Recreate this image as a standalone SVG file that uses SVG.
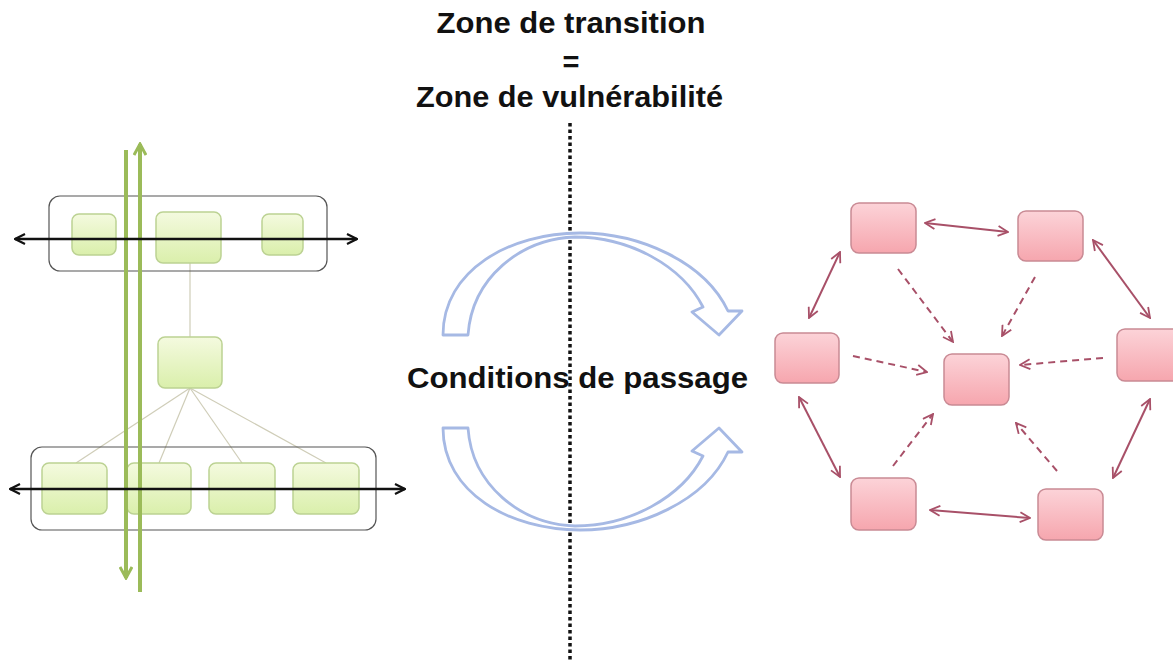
<svg xmlns="http://www.w3.org/2000/svg" width="1173" height="669" viewBox="0 0 1173 669">
<style>
.title{font-family:"Liberation Sans",Arial,sans-serif;font-weight:bold;font-size:29px;fill:#111;}
.cont{fill:none;stroke:#555;stroke-width:1.2;}
.gnode{fill:url(#gg);stroke:#bcd293;stroke-width:1.5;}
.pnode{fill:url(#pg);stroke:#c98a94;stroke-width:1.5;}
.tree{stroke:#cfcdb8;stroke-width:1.2;fill:none;}
.harr{stroke:#111;stroke-width:2.3;fill:none;marker-start:url(#ka);marker-end:url(#ka);}
.varr{stroke:#9bbb59;stroke-width:4;fill:none;marker-end:url(#ga);}
.solid{stroke:#a85068;stroke-width:2;fill:none;marker-start:url(#pa);marker-end:url(#pa);}
.dash{stroke:#a85068;stroke-width:2;fill:none;stroke-dasharray:7 5;marker-end:url(#pa);}
.cyc{fill:#fff;stroke:#a6b9e4;stroke-width:2.8;stroke-linejoin:round;}
</style>
<defs>
<linearGradient id="gg" x1="0" y1="0" x2="0" y2="1"><stop offset="0" stop-color="#f4fadf"/><stop offset="1" stop-color="#daefab"/></linearGradient>
<linearGradient id="pg" x1="0" y1="0" x2="0" y2="1"><stop offset="0" stop-color="#fcd3d8"/><stop offset="1" stop-color="#f6a6ae"/></linearGradient>
<marker id="ka" viewBox="0 0 12 12" refX="11" refY="6" markerWidth="12" markerHeight="12" markerUnits="userSpaceOnUse" orient="auto-start-reverse"><path d="M1,1 L11,6 L1,11" fill="none" stroke="#111" stroke-width="2.2"/></marker>
<marker id="ga" viewBox="0 0 14 14" refX="12" refY="7" markerWidth="14" markerHeight="14" markerUnits="userSpaceOnUse" orient="auto-start-reverse"><path d="M1,1 L12,7 L1,13" fill="none" stroke="#9bbb59" stroke-width="3"/></marker>
<marker id="pa" viewBox="0 0 12 12" refX="11" refY="6" markerWidth="12" markerHeight="12" markerUnits="userSpaceOnUse" orient="auto-start-reverse"><path d="M1,1 L11,6 L1,11" fill="none" stroke="#a85068" stroke-width="1.8"/></marker>
<path id="carrow" d="M443,335 C443,270 510,233 580,233 C640,233 705,262 728,311 L742,311 L719,335 L692,312 L703,307 C682,266 630,237 575,237 C520,239 472,278 468,335 Z"/>
</defs>
<rect width="1173" height="669" fill="#fff"/>

<g id="titles">
<text class="title" x="571" y="33" text-anchor="middle" textLength="269" lengthAdjust="spacingAndGlyphs">Zone de transition</text>
<text class="title" x="571" y="72" text-anchor="middle">=</text>
<text class="title" x="569.5" y="107" text-anchor="middle" textLength="307" lengthAdjust="spacingAndGlyphs">Zone de vulnérabilité</text>
</g>

<g id="divider"><line x1="570" y1="123" x2="570" y2="662" stroke="#111" stroke-width="3.5" stroke-dasharray="3.5 3"/></g>

<g id="cycle-arrows">
<use href="#carrow" class="cyc"/>
<use href="#carrow" class="cyc" transform="translate(0,763) scale(1,-1)"/>
</g>
<g id="label-conditions">
<text class="title" x="577.5" y="388" text-anchor="middle" textLength="341" lengthAdjust="spacingAndGlyphs">Conditions de passage</text>
</g>

<g id="left-connectors">
<line class="tree" x1="190" y1="263" x2="190" y2="337"/>
<line class="tree" x1="190" y1="388" x2="76" y2="463"/>
<line class="tree" x1="190" y1="388" x2="159" y2="463"/>
<line class="tree" x1="190" y1="388" x2="242" y2="463"/>
<line class="tree" x1="190" y1="388" x2="326" y2="463"/>
</g>
<g id="top-group"><rect class="cont" x="49" y="196" width="278" height="75" rx="11"/></g>
<g id="bottom-group"><rect class="cont" x="31" y="447" width="345" height="83" rx="11"/></g>
<g id="g-top1"><rect class="gnode" x="72" y="214" width="44" height="41" rx="7"/></g>
<g id="g-top2"><rect class="gnode" x="156" y="212" width="65" height="51" rx="7"/></g>
<g id="g-top3"><rect class="gnode" x="262" y="214" width="41" height="41" rx="7"/></g>
<g id="g-mid"><rect class="gnode" x="158" y="337" width="64" height="51" rx="7"/></g>
<g id="g-bot1"><rect class="gnode" x="42" y="463" width="65" height="51" rx="7"/></g>
<g id="g-bot2"><rect class="gnode" x="127" y="463" width="64" height="51" rx="7"/></g>
<g id="g-bot3"><rect class="gnode" x="209" y="463" width="66" height="51" rx="7"/></g>
<g id="g-bot4"><rect class="gnode" x="293" y="463" width="66" height="51" rx="7"/></g>
<g id="left-arrows">
<line class="varr" x1="126" y1="150" x2="126" y2="578"/>
<line class="varr" x1="140" y1="592" x2="140" y2="144"/>
<line class="harr" x1="15" y1="239" x2="357" y2="239"/>
<line class="harr" x1="10" y1="489" x2="405" y2="489"/>
</g>

<g id="p-tl"><rect class="pnode" x="851" y="203" width="65" height="50" rx="8"/></g>
<g id="p-tr"><rect class="pnode" x="1018" y="211" width="65" height="50" rx="8"/></g>
<g id="p-l"><rect class="pnode" x="775" y="333" width="64" height="50" rx="8"/></g>
<g id="p-c"><rect class="pnode" x="944" y="354" width="65" height="51" rx="8"/></g>
<g id="p-r"><rect class="pnode" x="1117" y="329" width="65" height="52" rx="8"/></g>
<g id="p-bl"><rect class="pnode" x="851" y="478" width="65" height="52" rx="8"/></g>
<g id="p-br"><rect class="pnode" x="1038" y="489" width="65" height="51" rx="8"/></g>
<g id="connectors">
<line class="solid" x1="925" y1="223" x2="1008" y2="232"/>
<line class="solid" x1="1093" y1="240" x2="1150" y2="318"/>
<line class="solid" x1="840" y1="252" x2="809" y2="318"/>
<line class="solid" x1="799" y1="397" x2="840" y2="477"/>
<line class="solid" x1="930" y1="510" x2="1030" y2="518"/>
<line class="solid" x1="1150" y1="399" x2="1113" y2="478"/>
<line class="dash" x1="898" y1="269" x2="953" y2="342"/>
<line class="dash" x1="1035" y1="277" x2="1002" y2="336"/>
<line class="dash" x1="853" y1="356" x2="927" y2="372"/>
<line class="dash" x1="1103" y1="358" x2="1020" y2="365"/>
<line class="dash" x1="893" y1="466" x2="933" y2="414"/>
<line class="dash" x1="1057" y1="471" x2="1016" y2="423"/>
</g>
</svg>
